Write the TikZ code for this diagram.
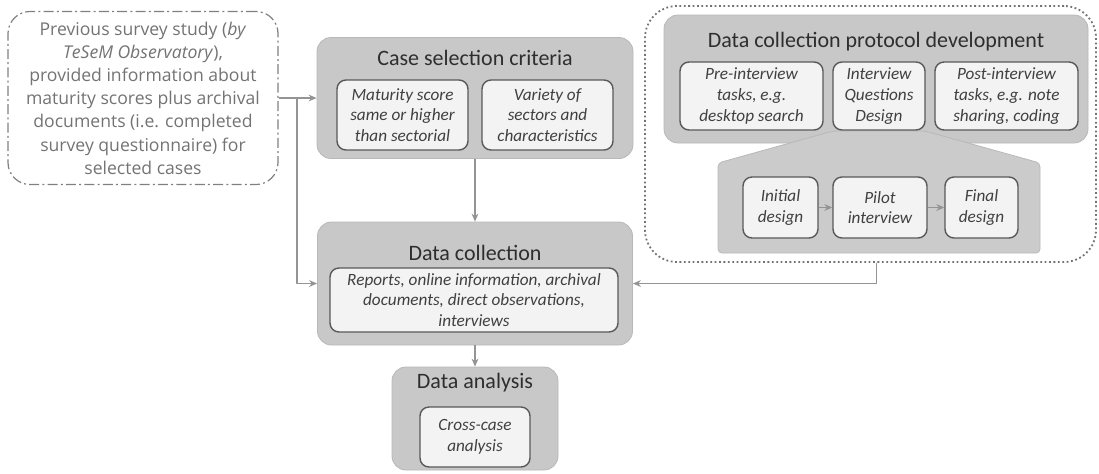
\documentclass[tikz,border=0pt]{standalone}
\usepackage{fontspec}
\setmainfont{Carlito}
\newfontfamily\surveyfont{Open Sans}
\usetikzlibrary{arrows.meta}
\definecolor{panelgray}{HTML}{C8C8C8}
\definecolor{itemfill}{HTML}{F3F3F3}
\definecolor{inkgray}{HTML}{2E2E2E}
\begin{document}
\begin{tikzpicture}[x=0.5pt, y=-0.5pt, line join=round, >={Stealth[length=4pt,width=3.4pt]},
  panel/.style={fill=panelgray, draw=panelgray!92!black, rounded corners=7pt, inner sep=0pt},
  heading/.style={text=inkgray, font=\fontsize{11}{13}\selectfont},
  item/.style={fill=itemfill, draw=black!65, line width=0.7pt, rounded corners=4.5pt, align=center, inner sep=1pt,
    text=black!75, font=\fontsize{8.6}{10.4}\selectfont\itshape},
  srcbox/.style={draw=black!50, line width=0.6pt, dash pattern=on 5pt off 1.6pt on 1pt off 1.6pt, rounded corners=11pt,
    align=center, text=black!55, font=\surveyfont\fontsize{8.8}{11.6}\selectfont},
  link/.style={draw=black!42, line width=0.6pt}]
\useasboundingbox (0,0) rectangle (1099,473);
% survey input
\node[srcbox, minimum width=135pt, minimum height=86.5pt] (prev) at (143,98) {Previous survey study (\textit{by}\\ \textit{TeSeM Observatory}),\\ provided information about\\ maturity scores plus archival\\ documents (i.e. completed\\ survey questionnaire) for\\ selected cases};
% case selection
\node[panel, minimum width=158pt, minimum height=60.5pt] (case) at (475,98) {};
\node[heading] (caset) at (475,58) {Case selection criteria};
\node[item, minimum width=65.5pt, minimum height=35pt] (crit1) at (402.5,115) {Maturity score\\ same or higher\\ than sectorial};
\node[item, minimum width=65.5pt, minimum height=35pt] (crit2) at (547.5,115) {Variety of\\ sectors and\\ characteristics};
% data collection
\node[panel, minimum width=157.5pt, minimum height=61.5pt] (data) at (475,283.5) {};
\node[heading] (datat) at (475,253) {Data collection};
\node[item, minimum width=144pt, minimum height=32pt] (sources) at (474,300) {Reports, online information, archival\\ documents, direct observations,\\ interviews};
% data analysis
\node[panel, minimum width=83pt, minimum height=51.5pt] (ana) at (475,418.5) {};
\node[heading] (anat) at (475,383) {Data analysis};
\node[item, minimum width=55pt, minimum height=30pt] (cross) at (475,437) {Cross-case\\ analysis};
% protocol development
\node[draw=black!55, line width=0.9pt, dash pattern=on 0.9pt off 1.3pt, rounded corners=16pt, minimum width=225.5pt, minimum height=128pt] (frame) at (870.5,134) {};
\node[panel, minimum width=212pt, minimum height=64pt] (proto) at (876,79) {};
\node[heading] (protot) at (876,42) {Data collection protocol development};
\fill[panelgray!95!white, draw=panelgray!92!black, rounded corners=2pt] (833,131) -- (925,131) -- (1040,163) -- (1040,253) -- (718,253) -- (718,163) -- cycle;
\node[item, minimum width=71.5pt, minimum height=34pt] (pre) at (751.5,96) {Pre-interview\\ tasks, e.g.\\ desktop search};
\node[item, minimum width=46pt, minimum height=34pt] (design) at (879,96) {Interview\\ Questions\\ Design};
\node[item, minimum width=71.5pt, minimum height=34pt] (post) at (1006.5,96) {Post-interview\\ tasks, e.g. note\\ sharing, coding};
\node[item, minimum width=37.5pt, minimum height=30.5pt] (init) at (780.5,207.5) {Initial\\ design};
\node[item, minimum width=47pt, minimum height=30.5pt] (pilot) at (880,207.5) {Pilot\\ interview};
\node[item, minimum width=36.5pt, minimum height=30.5pt] (final) at (981.5,207.5) {Final\\ design};
% connectors
\coordinate (split) at (297,98);
\draw[link,->] (prev) -- (case);
\draw[link,->] (split) |- (data.west);
\draw[link,->] (case) -- (data);
\draw[link,->] (data) -- (ana);
\draw[link,->] ([xshift=3pt]frame.south) |- (data.east);
\draw[link,->] (init) -- (pilot);
\draw[link,->] (pilot) -- (final);
\end{tikzpicture}
\end{document}
